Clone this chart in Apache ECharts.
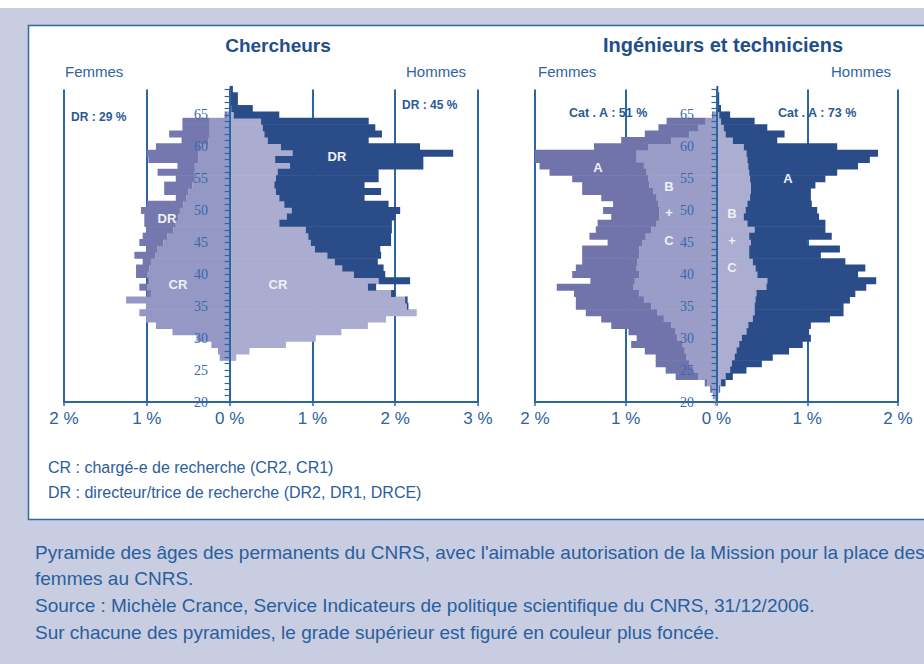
<!DOCTYPE html>
<html>
<head>
<meta charset="utf-8">
<script src="https://cdn.jsdelivr.net/npm/echarts@6/dist/echarts.min.js"></script>
<style>
html, body { margin: 0; padding: 0; background: #c8cde2; }
#chart { width: 924px; height: 664px; }
</style>
</head>
<body>
<div id="chart"></div>
<script>
// âges 20 -> 69, une barre par année
const ages = ['20', '21', '22', '23', '24', '25', '26', '27', '28', '29',
  '30', '31', '32', '33', '34', '35', '36', '37', '38', '39',
  '40', '41', '42', '43', '44', '45', '46', '47', '48', '49',
  '50', '51', '52', '53', '54', '55', '56', '57', '58', '59',
  '60', '61', '62', '63', '64', '65', '66', '67', '68', '69']
const ageTicks = ['20', '25', '30', '35', '40', '45', '50', '55', '60', '65']

// Chercheurs, en % de l'effectif
const chFemmesCR = [0, 0, 0, 0, 0, 0, 0, 0.12, 0.14, 0.22,
  0.40, 0.69, 0.89, 1.01, 1.09, 1.01, 1.25, 0.95, 1.00, 0.97,
  1.00, 0.97, 0.95, 0.90, 0.87, 0.80, 0.75, 0.68, 0.65, 0.62,
  0.60, 0.56, 0.52, 0.50, 0.45, 0.42, 0.42, 0.42, 0.38, 0.38,
  0.35, 0.26, 0.24, 0.24, 0.24, 0.03, 0, 0, 0, 0]
const chFemmesDR = [0, 0, 0, 0, 0, 0, 0, 0, 0, 0,
  0, 0, 0, 0, 0, 0, 0, 0.05, 0.09, 0.02,
  0.13, 0.16, 0.10, 0.25, 0.14, 0.29, 0.30, 0.33, 0.38, 0.41,
  0.47, 0.44, 0.13, 0.29, 0.34, 0.23, 0.45, 0.21, 0.60, 0.62,
  0.54, 0.32, 0.49, 0.33, 0.33, 0.03, 0, 0, 0, 0]
const chHommesCR = [0, 0, 0, 0, 0, 0, 0, 0.08, 0.24, 0.68,
  1.04, 1.35, 1.67, 1.89, 2.26, 2.14, 2.12, 1.95, 1.67, 1.80,
  1.50, 1.36, 1.27, 1.18, 1.03, 0.98, 0.95, 0.92, 0.60, 0.69,
  0.75, 0.66, 0.60, 0.56, 0.54, 0.56, 0.58, 0.73, 0.55, 0.76,
  0.62, 0.46, 0.42, 0.40, 0.38, 0.05, 0.02, 0, 0, 0]
const chHommesDR = [0, 0, 0, 0, 0, 0, 0, 0, 0, 0,
  0, 0, 0, 0, 0, 0.02, 0.03, 0.05, 0.10, 0.38,
  0.38, 0.50, 0.52, 0.65, 0.79, 0.97, 1.00, 1.04, 1.36, 1.31,
  1.31, 1.26, 1.03, 1.27, 1.09, 1.24, 1.22, 1.61, 1.79, 1.94,
  1.68, 1.22, 1.42, 1.36, 1.30, 0.55, 0.26, 0.10, 0.10, 0.04]

// Ingénieurs et techniciens : B + C puis catégorie A
const itFemmesBC = [0.02, 0.03, 0.05, 0.10, 0.20, 0.26, 0.30, 0.33, 0.35, 0.38,
  0.43, 0.45, 0.50, 0.58, 0.65, 0.72, 0.80, 0.85, 0.92, 0.90,
  0.85, 0.88, 0.87, 0.85, 0.85, 0.82, 0.78, 0.72, 0.66, 0.63,
  0.63, 0.64, 0.66, 0.70, 0.74, 0.75, 0.77, 0.80, 0.88, 0.88,
  0.75, 0.50, 0.30, 0.20, 0.12, 0.03, 0, 0, 0, 0]
const itFemmesA = [0, 0.01, 0.02, 0.03, 0.25, 0.30, 0.37, 0.34, 0.44, 0.56,
  0.45, 0.52, 0.66, 0.69, 0.79, 0.83, 0.75, 0.72, 0.84, 0.49,
  0.74, 0.67, 0.61, 0.63, 0.63, 0.38, 0.62, 0.61, 0.65, 0.53,
  0.62, 0.50, 0.61, 0.78, 0.74, 0.84, 1.07, 1.15, 1.20, 1.14,
  0.60, 0.55, 0.49, 0.44, 0.43, 0.02, 0, 0, 0, 0]
const itHommesBC = [0.01, 0.02, 0.03, 0.05, 0.10, 0.15, 0.17, 0.20, 0.22, 0.25,
  0.28, 0.33, 0.35, 0.40, 0.42, 0.42, 0.43, 0.44, 0.55, 0.56,
  0.45, 0.43, 0.40, 0.36, 0.36, 0.38, 0.36, 0.42, 0.34, 0.30,
  0.32, 0.34, 0.37, 0.38, 0.38, 0.37, 0.36, 0.35, 0.34, 0.33,
  0.30, 0.18, 0.10, 0.08, 0.05, 0.03, 0, 0, 0, 0]
const itHommesA = [0, 0, 0.01, 0.05, 0.08, 0.18, 0.33, 0.42, 0.58, 0.70,
  0.76, 0.69, 0.69, 0.85, 0.98, 0.98, 1.04, 1.09, 1.10, 1.20,
  1.11, 1.21, 1.02, 0.79, 1.00, 0.62, 0.91, 0.78, 0.86, 0.83,
  0.79, 0.71, 0.67, 0.66, 0.71, 0.83, 0.97, 1.21, 1.35, 1.45,
  1.03, 0.49, 0.65, 0.48, 0.37, 0.12, 0.05, 0.03, 0.03, 0.02]

const blue = '#2b66a3'
const textBlue = '#2a5e9c'

const chart = echarts.init(document.getElementById('chart'), null, { renderer: 'svg' })

const makeX = (gridIndex, max) => ({
  type: 'value',
  gridIndex,
  min: -2,
  max,
  interval: 1,
  axisLine: { show: true, onZero: false, lineStyle: { color: blue, width: 2 } },
  axisTick: { show: true, length: 4, lineStyle: { color: blue, width: 1.5 } },
  axisLabel: {
    formatter: v => Math.abs(v) + ' %',
    color: '#2d62a0',
    fontSize: 17,
    fontFamily: 'Liberation Sans',
    margin: 8
  },
  splitLine: { show: true, lineStyle: { color: blue, width: 2 } }
})

// les étiquettes d'âge se placent depuis le bord de la grille : marge négative pour les ramener contre l'axe 0
const makeY = (gridIndex, labelMargin) => ({
  type: 'category',
  gridIndex,
  data: ages,
  boundaryGap: false,
  z: 5,
  axisLine: { onZero: true, lineStyle: { color: blue, width: 2 } },
  axisTick: { interval: 0, length: 5, lineStyle: { color: blue, width: 1.2 } },
  axisLabel: {
    interval: (i, v) => ageTicks.includes(v),
    margin: labelMargin,
    color: '#3768aa',
    fontSize: 14,
    fontFamily: 'Liberation Serif'
  },
  splitLine: { show: false }
})

const bar = (name, data, color, idx, left) => ({
  name,
  type: 'bar',
  stack: 'pyr' + idx,
  xAxisIndex: idx,
  yAxisIndex: idx,
  data: left ? data.map(v => -v) : data,
  barWidth: 7,
  itemStyle: { color },
  silent: true
})

const txt = (text, x, y, size, color, opts = {}) => ({
  type: 'text',
  x, y, z: 20,
  style: {
    text,
    fill: color,
    font: (opts.bold ? 'bold ' : '') + size + 'px "Liberation Sans"',
    textAlign: opts.align || 'left',
    textVerticalAlign: 'middle'
  }
})

const white = '#eef0f8'

const option = {
  animation: false,
  grid: [
    { left: 64, top: 89.4, width: 414, height: 312.6 },
    { left: 535, top: 89.4, width: 363, height: 312.6 }
  ],
  xAxis: [makeX(0, 3), makeX(1, 2)],
  yAxis: [makeY(0, -144), makeY(1, -159)],
  series: [
    bar('CR femmes', chFemmesCR, '#9598c5', 0, true),
    bar('DR femmes', chFemmesDR, '#7478ae', 0, true),
    bar('CR hommes', chHommesCR, '#aaacd0', 0, false),
    bar('DR hommes', chHommesDR, '#2a4c88', 0, false),
    bar('B+C femmes', itFemmesBC, '#9b9dc9', 1, true),
    bar('A femmes', itFemmesA, '#7074aa', 1, true),
    bar('B+C hommes', itHommesBC, '#abadd1', 1, false),
    bar('A hommes', itHommesA, '#2a4c88', 1, false)
  ],
  graphic: [
    { type: 'rect', z: -10, shape: { x: 0, y: 0, width: 924, height: 8 }, style: { fill: '#fff' } },
    { type: 'rect', z: -10, shape: { x: 28.5, y: 25.5, width: 920, height: 494 }, style: { fill: '#fff', stroke: '#2f6aa6', lineWidth: 1.5 } },

    txt('Chercheurs', 278, 45, 19, '#1f4f8b', { bold: true, align: 'center' }),
    txt('Ingénieurs et techniciens', 723, 45, 20, '#1f4f8b', { bold: true, align: 'center' }),
    txt('Femmes', 65, 71, 15, '#2f64a0'),
    txt('Hommes', 466, 71, 15, '#2f64a0', { align: 'right' }),
    txt('Femmes', 538, 71, 15, '#2f64a0'),
    txt('Hommes', 891, 71, 15, '#2f64a0', { align: 'right' }),
    txt('DR : 29 %', 71, 117, 12, '#2a5a96', { bold: true }),
    txt('DR : 45 %', 402, 105, 12, '#2a5a96', { bold: true }),
    txt('Cat . A : 51 %', 569, 113, 12.5, '#2a5a96', { bold: true }),
    txt('Cat . A : 73 %', 778, 113, 12.5, '#2a5a96', { bold: true }),

    txt('DR', 337, 156, 13, white, { bold: true, align: 'center' }),
    txt('CR', 278, 284, 13, white, { bold: true, align: 'center' }),
    txt('DR', 167, 218, 13, white, { bold: true, align: 'center' }),
    txt('CR', 178, 284, 13, white, { bold: true, align: 'center' }),
    txt('A', 598, 167, 13, white, { bold: true, align: 'center' }),
    txt('B', 669, 186, 13, white, { bold: true, align: 'center' }),
    txt('+', 669, 212, 13, white, { bold: true, align: 'center' }),
    txt('C', 669, 240, 13, white, { bold: true, align: 'center' }),
    txt('A', 788, 178, 13, white, { bold: true, align: 'center' }),
    txt('B', 732, 213, 13, white, { bold: true, align: 'center' }),
    txt('+', 732, 240, 13, white, { bold: true, align: 'center' }),
    txt('C', 732, 267, 13, white, { bold: true, align: 'center' }),

    txt('CR : chargé-e de recherche (CR2, CR1)', 48, 467, 16, textBlue),
    txt('DR : directeur/trice de recherche (DR2, DR1, DRCE)', 48, 492, 16, textBlue),

    txt("Pyramide des âges des permanents du CNRS, avec l'aimable autorisation de la Mission pour la place des", 35, 552, 19, textBlue),
    txt('femmes au CNRS.', 35, 578, 19, textBlue),
    txt('Source : Michèle Crance, Service Indicateurs de politique scientifique du CNRS, 31/12/2006.', 35, 605, 19, textBlue),
    txt('Sur chacune des pyramides, le grade supérieur est figuré en couleur plus foncée.', 35, 632, 19, textBlue)
  ]
}

chart.setOption(option)
</script>
</body>
</html>
